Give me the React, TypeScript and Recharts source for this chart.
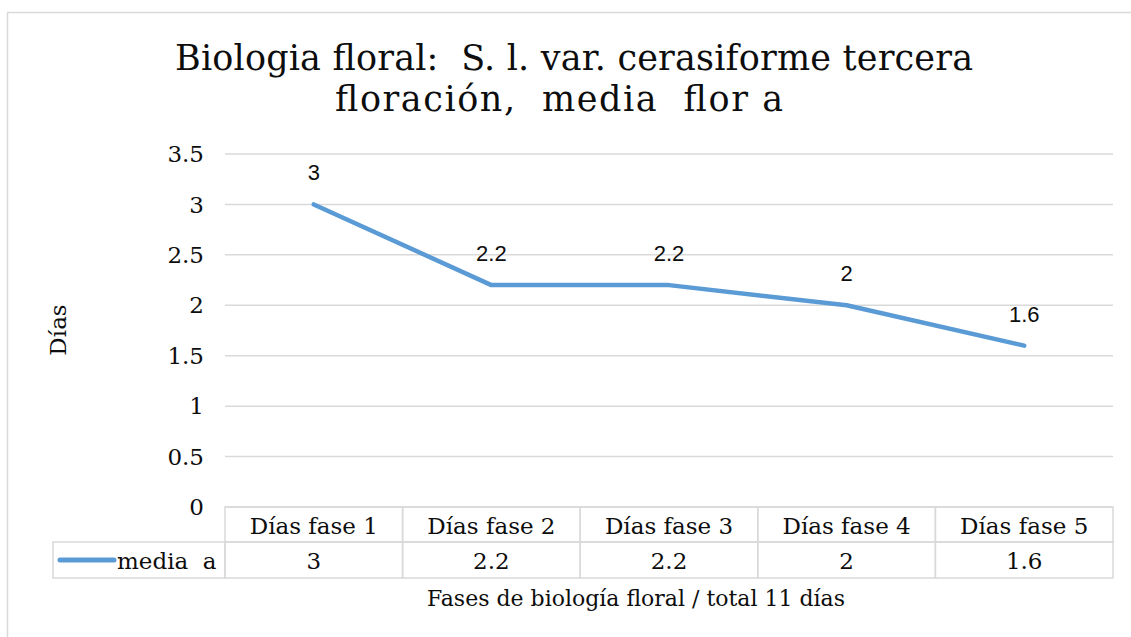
import React from 'react';
import { LineChart, Line, XAxis, YAxis, CartesianGrid, LabelList, Customized } from 'recharts';

const categories = ['Días fase 1', 'Días fase 2', 'Días fase 3', 'Días fase 4', 'Días fase 5'];
const mediaA = [3, 2.2, 2.2, 2, 1.6];
const yTicks = [0, 0.5, 1, 1.5, 2, 2.5, 3, 3.5];
const seriesName = 'media  a';
const titleLines = ['Biologia floral:  S. l. var. cerasiforme tercera', 'floración,  media  flor a'];
const yTitle = 'Días';
const xTitle = 'Fases de biología floral / total 11 días';

const data = categories.map((c, i) => ({ fase: c, media: mediaA[i] }));

const W = 1131;
const H = 637;
const PLOT_LEFT = 225;
const PLOT_RIGHT = 1113;
const PLOT_TOP = 154;
const PLOT_BOTTOM = 507;
const COL_W = (PLOT_RIGHT - PLOT_LEFT) / categories.length;
const ROW1 = 35;
const ROW2 = 36;
const LEGEND_LEFT = 53;
const GRID = '#d9d9d9';
const TEXT = '#0d0d0d';
const SERIF = '"DejaVu Serif", serif';
const SANS = '"Liberation Sans", Arial, sans-serif';
const BLUE = '#5b9bd5';
const TABLE_FS = 23;

const TableTick = (props: any) => {
  const { x, y, payload, index } = props;
  const left = x - COL_W / 2;
  const top = y;
  return (
    <g>
      <rect x={left} y={top} width={COL_W} height={ROW1} fill="none" stroke={GRID} strokeWidth={1.5} />
      <rect x={left} y={top + ROW1} width={COL_W} height={ROW2} fill="none" stroke={GRID} strokeWidth={1.5} />
      <text x={x} y={top + ROW1 / 2 + 1} textAnchor="middle" dominantBaseline="central" fontFamily={SERIF} fontSize={TABLE_FS} fill={TEXT}>
        {payload.value}
      </text>
      <text x={x} y={top + ROW1 + ROW2 / 2 + 1} textAnchor="middle" dominantBaseline="central" fontFamily={SERIF} fontSize={TABLE_FS} fill={TEXT}>
        {String(mediaA[index])}
      </text>
      {index === 0 && (
        <g>
          <rect x={LEGEND_LEFT} y={top + ROW1} width={left - LEGEND_LEFT} height={ROW2} fill="none" stroke={GRID} strokeWidth={1.5} />
          <line x1={60} x2={114} y1={top + ROW1 + ROW2 / 2} y2={top + ROW1 + ROW2 / 2} stroke={BLUE} strokeWidth={5} strokeLinecap="round" />
          <text x={117} y={top + ROW1 + ROW2 / 2 + 1} dominantBaseline="central" fontFamily={SERIF} fontSize={TABLE_FS} fill={TEXT} style={{ whiteSpace: 'pre' }}>
            {seriesName}
          </text>
        </g>
      )}
    </g>
  );
};

const Decor = () => (
  <g>
    <rect x={7.5} y={12.5} width={1140} height={640} fill="none" stroke={GRID} strokeWidth={1.5} />
    <text x={175} y={70} textLength={798} lengthAdjust="spacing" fontFamily={SERIF} fontSize={35} fill={TEXT} style={{ whiteSpace: 'pre' }}>
      {titleLines[0]}
    </text>
    <text x={335} y={111} textLength={448} lengthAdjust="spacing" fontFamily={SERIF} fontSize={35} fill={TEXT} style={{ whiteSpace: 'pre' }}>
      {titleLines[1]}
    </text>
    <text x={66} y={330} transform="rotate(-90 66 330)" textAnchor="middle" fontFamily={SERIF} fontSize={23} fill={TEXT}>
      {yTitle}
    </text>
    <text x={636} y={606} textAnchor="middle" fontFamily={SERIF} fontSize={22} fill={TEXT}>
      {xTitle}
    </text>
  </g>
);

export default function App() {
  return (
    <div style={{ position: 'absolute', left: 0, top: 0, width: W, height: H, overflow: 'hidden', background: '#fff' }}>
      <LineChart
        width={W}
        height={H}
        data={data}
        margin={{ top: PLOT_TOP, right: W - PLOT_RIGHT, bottom: 0, left: 0 }}
      >
        <Customized component={<Decor />} />
        <CartesianGrid horizontal vertical={false} stroke={GRID} strokeWidth={1.5} />
        <XAxis
          dataKey="fase"
          height={H - PLOT_BOTTOM}
          padding={{ left: COL_W / 2, right: COL_W / 2 }}
          axisLine={false}
          tickLine={false}
          tickSize={0}
          tickMargin={0}
          interval={0}
          tick={<TableTick />}
        />
        <YAxis
          width={PLOT_LEFT}
          domain={[0, 3.5]}
          ticks={yTicks}
          axisLine={false}
          tickLine={false}
          tickSize={0}
          tickMargin={21}
          interval={0}
          tick={{ fontFamily: SERIF, fontSize: 23, fill: TEXT }}
        />
        <Line
          dataKey="media"
          type="linear"
          stroke={BLUE}
          strokeWidth={4.5}
          strokeLinecap="round"
          strokeLinejoin="round"
          dot={false}
          isAnimationActive={false}
        >
          <LabelList dataKey="media" position="top" offset={24} fontFamily={SANS} fontSize={22} fill={TEXT} />
        </Line>
      </LineChart>
    </div>
  );
}
